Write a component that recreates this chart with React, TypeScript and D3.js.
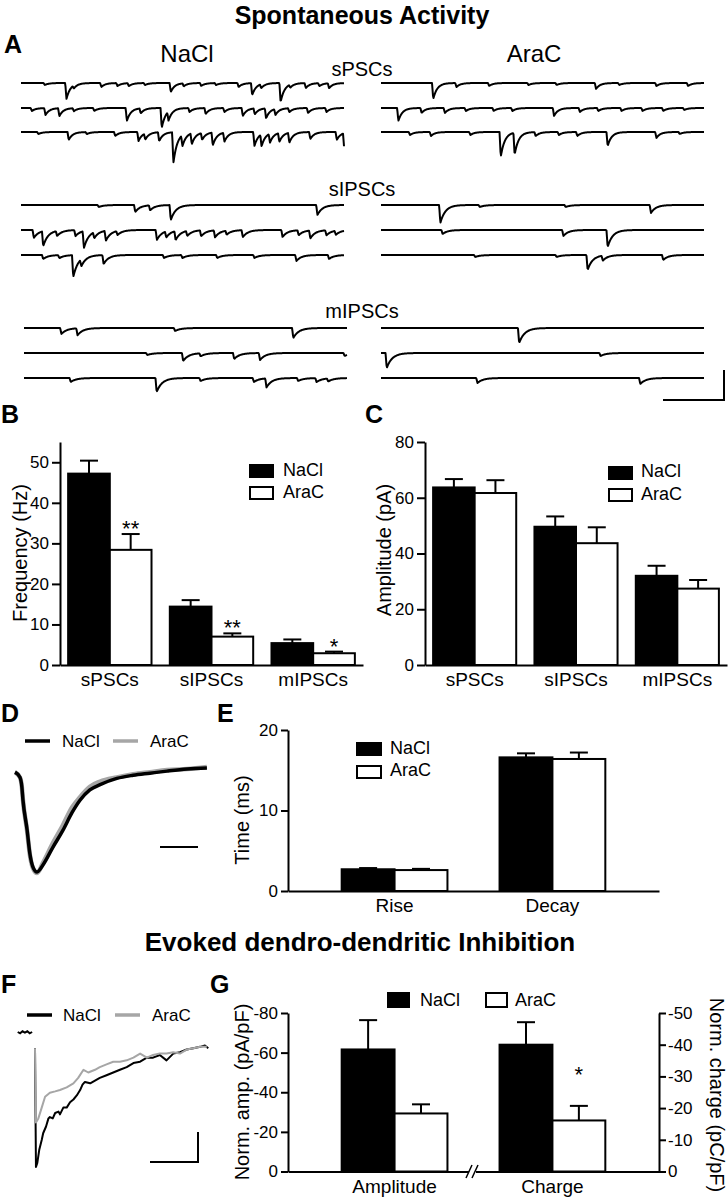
import React, { useEffect, useRef } from "react";
import * as d3 from "d3";

const FONT = "'Liberation Sans', Arial, Helvetica, sans-serif";
const W = 728;
const H = 1199;

const sPSCsNaCl = [
  [[0.07, 2], [0.137, 16], [0.16, 3], [0.245, 4], [0.295, 3], [0.33, 3], [0.38, 2], [0.46, 9], [0.5, 3], [0.554, 3], [0.6, 2], [0.67, 4], [0.712, 12], [0.74, 4], [0.8, 19], [0.83, 3], [0.878, 5], [0.92, 3], [0.95, 5]],
  [[0.03, 3], [0.072, 7], [0.115, 8], [0.16, 3], [0.223, 3], [0.324, 13], [0.367, 5], [0.432, 20], [0.453, 9], [0.518, 4], [0.568, 6], [0.626, 4], [0.683, 8], [0.72, 6], [0.755, 10], [0.784, 6], [0.827, 4], [0.885, 5], [0.942, 4]],
  [[0.05, 2], [0.144, 8], [0.2, 2], [0.288, 4], [0.36, 9], [0.381, 6], [0.424, 9], [0.468, 31], [0.496, 11], [0.525, 11], [0.557, 7], [0.59, 13], [0.626, 9], [0.719, 14], [0.741, 12], [0.767, 9], [0.796, 9], [0.827, 10], [0.892, 7], [0.974, 8], [0.997, 16]],
];
const sPSCsAraC = [
  [[0.158, 16], [0.23, 4], [0.331, 3], [0.453, 2], [0.54, 2], [0.662, 6], [0.734, 2], [0.849, 3], [0.947, 3]],
  [[0.05, 13], [0.122, 5], [0.194, 5], [0.259, 3], [0.345, 3], [0.403, 3], [0.532, 8], [0.612, 4], [0.669, 3], [0.741, 3], [0.806, 3], [0.87, 3], [0.935, 2]],
  [[0.086, 3], [0.151, 4], [0.273, 3], [0.367, 25], [0.41, 22], [0.475, 4], [0.547, 3], [0.604, 4], [0.698, 14], [0.849, 6], [0.921, 2]],
];
const sIPSCsNaCl = [
  [[0.237, 2], [0.35, 7], [0.396, 5], [0.46, 15], [0.914, 10]],
  [[0.036, 8], [0.065, 15], [0.108, 5], [0.165, 6], [0.191, 17], [0.223, 6], [0.259, 10], [0.295, 4], [0.417, 10], [0.446, 6], [0.475, 9], [0.511, 5], [0.554, 6], [0.597, 7], [0.633, 4], [0.683, 7], [0.806, 7], [0.856, 5], [0.892, 8], [0.942, 5], [0.971, 4]],
  [[0.065, 4], [0.115, 3], [0.158, 22], [0.183, 7], [0.252, 9], [0.439, 3], [0.496, 3], [0.604, 3], [0.719, 3], [0.849, 6], [0.95, 4]],
];
const sIPSCsAraC = [
  [[0.18, 18], [0.302, 2], [0.568, 2], [0.832, 8]],
  [[0.187, 4], [0.561, 6], [0.698, 17]],
  [[0.288, 2], [0.54, 2], [0.636, 15], [0.683, 5], [0.87, 5]],
];
const mIPSCsNaCl = [
  [[0.112, 6], [0.162, 7], [0.464, 3], [0.83, 10]],
  [[0.378, 2], [0.489, 8], [0.543, 3], [0.647, 6], [0.727, 7], [0.989, 3]],
  [[0.141, 4], [0.407, 14], [0.543, 3], [0.708, 4], [0.747, 9], [0.845, 3], [0.902, 4], [0.938, 3]],
];
const mIPSCsAraC = [
  [[0.424, 15]],
  [[0.014, 15], [0.676, 3]],
  [[0.295, 5], [0.799, 6]],
];

// ---- B / C
const spontCats = ["sPSCs", "sIPSCs", "mIPSCs"];
const freqTicks = [0, 10, 20, 30, 40, 50];
const freqNaCl = [47.2, 14.4, 5.4];
const freqNaClErr = [3.2, 1.6, 0.9];
const freqAraC = [28.4, 7.0, 2.9];
const freqAraCErr = [3.9, 0.8, 0.4];
const freqStars = ["**", "**", "*"];

const ampTicks = [0, 20, 40, 60, 80];
const ampNaCl = [63.7, 49.6, 32.0];
const ampNaClErr = [3.0, 3.7, 3.6];
const ampAraC = [61.7, 43.7, 27.4];
const ampAraCErr = [4.6, 5.7, 3.1];

// ---- D: averaged sIPSC, [time (ms), normalised current]
const avgNaCl = [[0, -0.04], [1.3, -0.09], [1.8, -0.18], [2.1, -0.31], [3.2, -0.6], [3.9, -0.82], [4.7, -0.95], [5.8, -1.0], [7.4, -0.93], [10.0, -0.76], [12.6, -0.6], [15.0, -0.43], [17.1, -0.31], [19.7, -0.21], [22.4, -0.16], [26.8, -0.1], [31.1, -0.07], [35.5, -0.05], [40.0, -0.03], [45.3, -0.01], [50.5, 0]];
const avgAraC = [[0, -0.04], [1.3, -0.09], [1.8, -0.18], [2.1, -0.31], [3.2, -0.61], [3.9, -0.83], [4.7, -0.96], [5.8, -1.01], [7.4, -0.91], [10.0, -0.72], [12.6, -0.55], [15.0, -0.38], [17.1, -0.28], [19.7, -0.18], [22.4, -0.13], [26.8, -0.09], [31.1, -0.06], [35.5, -0.04], [40.0, -0.02], [45.3, -0.01], [50.5, 0.01]];

// ---- E
const kinCats = ["Rise", "Decay"];
const kinTicks = [0, 10, 20];
const kinNaCl = [2.7, 16.6];
const kinNaClErr = [0.15, 0.5];
const kinAraC = [2.6, 16.4];
const kinAraCErr = [0.15, 0.8];

// ---- F: DDI traces, [time (ms), % of peak]
const ddiPre = [[-36, 0], [-31, -1], [-26, 0.5], [-21, -0.5], [-16, 0.5], [-11, -1], [-6, 0]];
const ddiNaClTrace = [[0, -12], [2, -100], [4.8, -97], [9, -87], [14, -80], [17, -75], [23, -70], [28, -64], [31, -63], [37, -64], [42, -60], [49, -59], [52, -61], [59, -56], [66, -56], [73, -52], [80, -50], [87, -47], [94, -43], [99, -39], [104, -37], [115, -38], [125, -36], [135, -34], [149, -32], [163, -30], [177, -28], [191, -26], [205, -23], [219, -22], [233, -19], [246, -19], [260, -17], [274, -21], [288, -16], [302, -15], [316, -13], [330, -12], [344, -11], [354, -10], [361, -12]];
const ddiAraCTrace = [[0, -12], [2, -67], [7, -64], [14, -56], [21, -48], [31, -45], [42, -44], [52, -43], [66, -41], [80, -38], [90, -34], [101, -28], [111, -30], [125, -28], [135, -26], [149, -24], [163, -22], [177, -22], [191, -21], [205, -19], [219, -16], [233, -19], [246, -17], [260, -16], [274, -16], [288, -15], [302, -16], [316, -13], [330, -12], [344, -11], [358, -11]];

// ---- G
const ddiCats = ["Amplitude", "Charge"];
const ddiAmpTicks = [0, -20, -40, -60, -80];
const ddiChargeTicks = [0, -10, -20, -30, -40, -50];
const ddiNaCl = [-61.6, -40.0];
const ddiNaClErr = [-14.8, -7.1];
const ddiAraC = [-29.3, -16.1];
const ddiAraCErr = [-4.6, -4.6];
const ddiStars = ["", "*"];

type Sel = d3.Selection<any, any, any, any>;

const txt = (g: Sel, x: number, y: number, s: string, size: number, anchor = "start", bold = false) =>
  g.append("text").attr("x", x).attr("y", y).attr("font-size", size).attr("font-family", FONT)
    .attr("text-anchor", anchor).attr("font-weight", bold ? "bold" : "normal").attr("fill", "#000").text(s);

const vlabel = (g: Sel, x: number, y: number, s: string, rot = -90) =>
  g.append("text").attr("transform", `translate(${x},${y}) rotate(${rot})`).attr("font-size", 20)
    .attr("font-family", FONT).attr("text-anchor", "middle").attr("fill", "#000").text(s);

const styleAxis = (a: Sel, size = 17) => {
  a.attr("font-size", size).attr("font-family", FONT);
  a.selectAll("path,line").attr("stroke", "#000").attr("stroke-width", 2);
  a.selectAll("text").attr("fill", "#000");
};

function sweep(g: Sel, events: number[][], x0: number, x1: number, base: number, tau: number) {
  const x = d3.scaleLinear().domain([0, 1]).range([x0, x1]);
  const y = d3.scaleLinear().domain([0, 40]).range([base, base + 40]);
  const len = x1 - x0;
  const n = Math.round(len * 2);
  const pts = d3.range(n + 1).map(i => {
    const t = i / n;
    let v = 0;
    events.forEach(([p, a]) => {
      const dx = (t - p) * len;
      if (dx < 0) return;
      v += dx < 1.2 ? (a * dx) / 1.2 : a * Math.exp(-(dx - 1.2) / tau);
    });
    return [t, v];
  });
  g.append("path").attr("d", d3.line().x(d => x(d[0])).y(d => y(d[1]))(pts as any))
    .attr("fill", "none").attr("stroke", "#000").attr("stroke-width", 2).attr("stroke-linejoin", "round");
}

function legendBox(g: Sel, x: number, y: number, w: number, h: number, label: string, fill: string, tx: number, ty: number) {
  g.append("rect").attr("x", x).attr("y", y).attr("width", w).attr("height", h)
    .attr("fill", fill).attr("stroke", "#000").attr("stroke-width", 2);
  txt(g, tx, ty, label, 18);
}

function bars(g: Sel, o: any) {
  const x = d3.scaleBand<string>().domain(o.cats).range([o.left, o.right]).paddingInner(o.pi).paddingOuter(o.po);
  const half = x.bandwidth() / 2;
  o.cats.forEach((c: string, i: number) => {
    const y = o.yFor(i);
    const series = [
      { v: o.nacl[i], e: o.naclErr[i], fill: "#000", dx: 0 },
      { v: o.arac[i], e: o.aracErr[i], fill: "#fff", dx: half },
    ];
    series.forEach(s => {
      const bx = (x(c) as number) + s.dx;
      const y0 = y(0), y1 = y(s.v), ye = y(s.v + s.e);
      const cx = bx + half / 2;
      g.append("line").attr("x1", cx).attr("x2", cx).attr("y1", y1).attr("y2", ye).attr("stroke", "#000").attr("stroke-width", 2);
      g.append("line").attr("x1", cx - 9).attr("x2", cx + 9).attr("y1", ye).attr("y2", ye).attr("stroke", "#000").attr("stroke-width", 2);
      g.append("rect").attr("x", bx).attr("y", Math.min(y0, y1)).attr("width", half).attr("height", Math.abs(y0 - y1))
        .attr("fill", s.fill).attr("stroke", "#000").attr("stroke-width", 2);
    });
    if (o.stars && o.stars[i]) {
      const cx = (x(c) as number) + half * 1.5;
      const ye = y(o.arac[i] + o.aracErr[i]);
      txt(g, cx, ye - o.starGap + 12, o.stars[i], 22, "middle");
    }
  });
  const ax = g.append("g").attr("transform", `translate(0,${o.bottom})`)
    .call(d3.axisBottom(x).tickSize(0).tickSizeOuter(0).tickPadding(8));
  styleAxis(ax, 19);
  return x;
}

function draw(svg: Sel) {
  svg.append("rect").attr("width", W).attr("height", H).attr("fill", "#fff");
  const g = svg.append("g");

  // titles and panel letters
  txt(g, 362, 24, "Spontaneous Activity", 25, "middle", true);
  txt(g, 360, 951, "Evoked dendro-dendritic Inhibition", 26, "middle", true);
  [["A", 4, 53], ["B", 1, 423], ["C", 365, 423], ["D", 1, 722], ["E", 217, 722], ["F", 1, 993], ["G", 210, 993]]
    .forEach(([l, x, y]) => txt(g, x as number, y as number, l as string, 25, "start", true));

  // ---- A
  txt(g, 187, 62, "NaCl", 24, "middle");
  txt(g, 534, 62, "AraC", 24, "middle");
  const groups = [
    { name: "sPSCs", left: sPSCsNaCl, right: sPSCsAraC, rows: [83, 108, 132], lbl: 76, lx: [21, 344], tau: 4 },
    { name: "sIPSCs", left: sIPSCsNaCl, right: sIPSCsAraC, rows: [205, 230, 255], lbl: 196, lx: [21, 344], tau: 5 },
    { name: "mIPSCs", left: mIPSCsNaCl, right: mIPSCsAraC, rows: [328, 353, 378], lbl: 318, lx: [24, 347], tau: 5.5 },
  ];
  groups.forEach(gr => {
    txt(g, 362, gr.lbl, gr.name, 20, "middle");
    gr.rows.forEach((b, i) => {
      sweep(g, gr.left[i], gr.lx[0], gr.lx[1], b, gr.tau);
      sweep(g, gr.right[i], 381, 704, b, gr.tau);
    });
  });
  g.append("path").attr("d", "M663,400H724V370").attr("fill", "none").attr("stroke", "#000").attr("stroke-width", 2);

  // ---- B
  const yB = d3.scaleLinear().domain([0, 55]).range([665, 442]);
  bars(g, { cats: spontCats, left: 60, right: 363, pi: 0.18, po: 0.08, bottom: 665, yFor: () => yB,
    nacl: freqNaCl, naclErr: freqNaClErr, arac: freqAraC, aracErr: freqAraCErr, stars: freqStars, starGap: 10 });
  styleAxis(g.append("g").attr("transform", "translate(60,0)")
    .call(d3.axisLeft(yB).tickValues(freqTicks).tickSize(8).tickSizeOuter(0).tickPadding(3).tickFormat(d => String(d))));
  vlabel(g, 27, 553, "Frequency (Hz)");
  legendBox(g, 250, 465, 23, 12, "NaCl", "#000", 283, 476);
  legendBox(g, 250, 487, 23, 12, "AraC", "#fff", 283, 498);

  // ---- C
  const yC = d3.scaleLinear().domain([0, 80]).range([665, 442]);
  bars(g, { cats: spontCats, left: 425, right: 727, pi: 0.18, po: 0.08, bottom: 665, yFor: () => yC,
    nacl: ampNaCl, naclErr: ampNaClErr, arac: ampAraC, aracErr: ampAraCErr });
  styleAxis(g.append("g").attr("transform", "translate(425,0)")
    .call(d3.axisLeft(yC).tickValues(ampTicks).tickSize(8).tickSizeOuter(0).tickPadding(3).tickFormat(d => String(d))));
  vlabel(g, 391, 550, "Amplitude (pA)");
  legendBox(g, 609, 467, 23, 12, "NaCl", "#000", 641, 477);
  legendBox(g, 609, 489, 23, 12, "AraC", "#fff", 641, 500);

  // ---- D
  const xD = d3.scaleLinear().domain([0, 50]).range([15, 205]);
  const yD = d3.scaleLinear().domain([-1, 0]).range([872, 768]);
  const lineD = d3.line().x(d => xD(d[0])).y(d => yD(d[1])).curve(d3.curveMonotoneX);
  g.append("path").attr("d", lineD(avgAraC as any)).attr("fill", "none").attr("stroke", "#a6a6a6").attr("stroke-width", 4.5);
  g.append("path").attr("d", lineD(avgNaCl as any)).attr("fill", "none").attr("stroke", "#000").attr("stroke-width", 3.5);
  g.append("line").attr("x1", 160).attr("x2", 198).attr("y1", 847).attr("y2", 847).attr("stroke", "#000").attr("stroke-width", 2);
  g.append("line").attr("x1", 25).attr("x2", 50).attr("y1", 741).attr("y2", 741).attr("stroke", "#000").attr("stroke-width", 3.5);
  txt(g, 62, 747, "NaCl", 17);
  g.append("line").attr("x1", 113).attr("x2", 138).attr("y1", 741).attr("y2", 741).attr("stroke", "#a6a6a6").attr("stroke-width", 3.5);
  txt(g, 150, 747, "AraC", 17);

  // ---- E
  const yE = d3.scaleLinear().domain([0, 20]).range([891, 730]);
  bars(g, { cats: kinCats, left: 288, right: 659, pi: 0.33, po: 0.34, bottom: 891, yFor: () => yE,
    nacl: kinNaCl, naclErr: kinNaClErr, arac: kinAraC, aracErr: kinAraCErr });
  styleAxis(g.append("g").attr("transform", "translate(288,0)")
    .call(d3.axisLeft(yE).tickValues(kinTicks).tickSize(7).tickSizeOuter(0).tickPadding(3).tickFormat(d => String(d))));
  vlabel(g, 249, 820, "Time (ms)");
  legendBox(g, 357, 743, 24, 12, "NaCl", "#000", 390, 754);
  legendBox(g, 357, 766, 24, 12, "AraC", "#fff", 390, 776);

  // ---- F
  const xF = d3.scaleLinear().domain([0, 360]).range([35, 207.8]);
  const yF = d3.scaleLinear().domain([-100, 0]).range([1167, 1032]);
  const lineF = d3.line().x(d => xF(d[0])).y(d => yF(d[1]));
  g.append("path").attr("d", lineF(ddiPre as any)).attr("fill", "none").attr("stroke", "#000").attr("stroke-width", 2);
  g.append("path").attr("d", lineF(ddiNaClTrace as any)).attr("fill", "none").attr("stroke", "#000").attr("stroke-width", 2).attr("stroke-linejoin", "round");
  g.append("path").attr("d", lineF(ddiAraCTrace as any)).attr("fill", "none").attr("stroke", "#a6a6a6").attr("stroke-width", 2).attr("stroke-linejoin", "round");
  g.append("path").attr("d", "M150,1162H198V1132").attr("fill", "none").attr("stroke", "#000").attr("stroke-width", 2);
  g.append("line").attr("x1", 27).attr("x2", 52).attr("y1", 1015).attr("y2", 1015).attr("stroke", "#000").attr("stroke-width", 3.5);
  txt(g, 63, 1021, "NaCl", 17);
  g.append("line").attr("x1", 115).attr("x2", 140).attr("y1", 1015).attr("y2", 1015).attr("stroke", "#a6a6a6").attr("stroke-width", 3.5);
  txt(g, 152, 1021, "AraC", 17);

  // ---- G
  const yGl = d3.scaleLinear().domain([0, -80]).range([1171.5, 1013]);
  const yGr = d3.scaleLinear().domain([0, -50]).range([1171.5, 1013]);
  bars(g, { cats: ddiCats, left: 288, right: 659, pi: 0.33, po: 0.34, bottom: 1171.5, yFor: (i: number) => (i === 0 ? yGl : yGr),
    nacl: ddiNaCl, naclErr: ddiNaClErr, arac: ddiAraC, aracErr: ddiAraCErr, stars: ddiStars, starGap: 36 });
  styleAxis(g.append("g").attr("transform", "translate(288,0)")
    .call(d3.axisLeft(yGl).tickValues(ddiAmpTicks).tickSize(7).tickSizeOuter(0).tickPadding(3).tickFormat(d => String(d))));
  styleAxis(g.append("g").attr("transform", "translate(659,0)")
    .call(d3.axisRight(yGr).tickValues(ddiChargeTicks).tickSize(7).tickSizeOuter(0).tickPadding(2).tickFormat(d => String(d))));
  // axis break
  g.append("rect").attr("x", 469).attr("y", 1168).attr("width", 7).attr("height", 8).attr("fill", "#fff");
  g.append("path").attr("d", "M466,1178L472,1165M472,1178L478,1165").attr("stroke", "#000").attr("stroke-width", 1.5);
  vlabel(g, 249, 1092, "Norm. amp. (pA/pF)");
  vlabel(g, 710, 1095, "Norm. charge (pC/pF)", 90);
  legendBox(g, 388, 993, 21, 14, "NaCl", "#000", 420, 1006);
  legendBox(g, 486, 993, 21, 14, "AraC", "#fff", 515, 1006);
}

export default function App() {
  const ref = useRef<SVGSVGElement>(null);
  useEffect(() => {
    const svg = d3.select(ref.current);
    svg.selectAll("*").remove();
    draw(svg as any);
  }, []);
  return (
    <div style={{ position: "absolute", left: 0, top: 0 }}>
      <svg ref={ref} width={W} height={H} style={{ display: "block" }} />
    </div>
  );
}
